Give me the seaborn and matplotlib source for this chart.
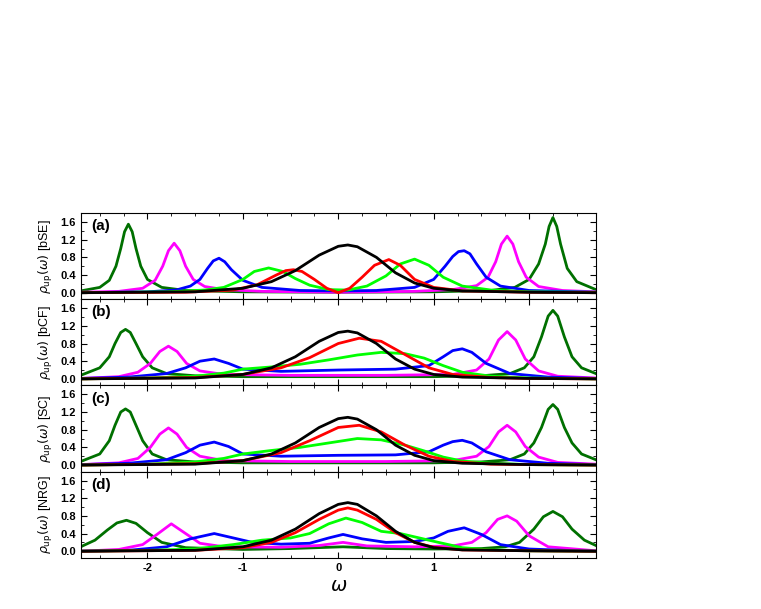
import matplotlib
matplotlib.use('Agg')
import matplotlib.pyplot as plt
import seaborn as sns
from matplotlib.ticker import MultipleLocator

# ---- panel (a) bSE ----
GA_x = [-2.7,-2.5,-2.4,-2.33,-2.28,-2.24,-2.2,-2.16,-2.12,-2.07,-2.0,-1.85,-1.6,-1.0,0.0,1.0,1.6,1.85,2.0,2.1,2.17,2.21,2.25,2.29,2.33,2.4,2.5,2.7]
GA_y = [0.04,0.12,0.28,0.6,1.0,1.38,1.55,1.38,1.0,0.6,0.3,0.12,0.05,0.02,0.01,0.02,0.05,0.12,0.3,0.65,1.1,1.5,1.7,1.5,1.1,0.55,0.25,0.07]
MA_x = [-2.7,-2.3,-2.05,-1.92,-1.84,-1.78,-1.72,-1.66,-1.6,-1.52,-1.4,-1.2,-0.8,0,0.8,1.2,1.45,1.57,1.65,1.71,1.77,1.83,1.89,1.97,2.1,2.35,2.7]
MA_y = [0.01,0.03,0.1,0.28,0.6,0.95,1.12,0.95,0.6,0.3,0.14,0.07,0.03,0.01,0.03,0.07,0.16,0.35,0.7,1.1,1.28,1.1,0.7,0.35,0.14,0.05,0.02]
BA_x = [-2.7,-2.0,-1.7,-1.55,-1.45,-1.37,-1.31,-1.25,-1.19,-1.12,-1.0,-0.8,-0.4,0,0.4,0.8,1.0,1.12,1.2,1.26,1.32,1.38,1.45,1.55,1.7,2.0,2.7]
BA_y = [0.0,0.02,0.06,0.15,0.3,0.55,0.72,0.78,0.7,0.52,0.28,0.12,0.05,0.04,0.05,0.12,0.3,0.6,0.82,0.93,0.95,0.88,0.65,0.35,0.15,0.05,0.01]
LA_x = [-2.7,-1.8,-1.4,-1.2,-1.0,-0.88,-0.73,-0.58,-0.45,-0.3,-0.1,0.1,0.3,0.5,0.65,0.8,0.95,1.1,1.3,1.6,2.0,2.7]
LA_y = [0.0,0.02,0.06,0.12,0.3,0.48,0.56,0.48,0.32,0.17,0.07,0.06,0.15,0.38,0.65,0.76,0.62,0.35,0.15,0.06,0.02,0.01]
RA_x = [-2.7,-1.6,-1.1,-0.85,-0.65,-0.55,-0.47,-0.38,-0.25,-0.12,0.0,0.12,0.25,0.38,0.53,0.65,0.8,1.0,1.3,2.0,2.7]
RA_y = [0.0,0.01,0.06,0.18,0.4,0.5,0.52,0.48,0.3,0.1,0.0,0.1,0.35,0.62,0.75,0.62,0.3,0.12,0.04,0.01,0.0]
KA_x = [-2.7,-1.5,-1.0,-0.7,-0.45,-0.2,0.0,0.1,0.2,0.4,0.6,0.8,1.0,1.3,2.0,2.7]
KA_y = [0.0,0.02,0.1,0.25,0.5,0.85,1.05,1.08,1.04,0.8,0.45,0.22,0.1,0.04,0.01,0.0]

# ---- panel (b) bCF ----
GB_x = [-2.7,-2.5,-2.4,-2.34,-2.28,-2.23,-2.18,-2.12,-2.05,-1.95,-1.8,-1.5,-1.0,0,1.0,1.5,1.8,1.95,2.05,2.13,2.2,2.25,2.3,2.37,2.45,2.55,2.7]
GB_y = [0.08,0.25,0.5,0.8,1.05,1.12,1.05,0.8,0.5,0.25,0.12,0.07,0.05,0.05,0.05,0.07,0.12,0.25,0.5,0.95,1.42,1.55,1.42,0.95,0.5,0.25,0.12]
MB_x = [-2.7,-2.3,-2.1,-1.97,-1.87,-1.78,-1.69,-1.59,-1.45,-1.2,-0.5,0.5,1.2,1.45,1.58,1.68,1.77,1.86,1.96,2.1,2.3,2.7]
MB_y = [0.01,0.05,0.15,0.35,0.62,0.74,0.62,0.35,0.18,0.1,0.08,0.08,0.1,0.2,0.45,0.88,1.07,0.88,0.45,0.18,0.06,0.02]
BB_x = [-2.7,-2.2,-1.8,-1.6,-1.45,-1.3,-1.15,-1.0,-0.6,0,0.6,0.95,1.1,1.2,1.3,1.4,1.55,1.8,2.2,2.7]
BB_y = [0.01,0.04,0.12,0.25,0.4,0.45,0.35,0.22,0.17,0.2,0.22,0.3,0.5,0.64,0.68,0.6,0.35,0.12,0.04,0.01]
LB_x = [-2.7,-2.0,-1.5,-1.2,-1.0,-0.7,-0.4,-0.1,0.2,0.45,0.7,0.9,1.1,1.3,1.6,2.0,2.7]
LB_y = [0.0,0.02,0.06,0.13,0.22,0.27,0.33,0.43,0.54,0.6,0.57,0.47,0.3,0.15,0.06,0.02,0.0]
RB_x = [-2.7,-1.5,-1.0,-0.6,-0.3,0.0,0.22,0.45,0.7,0.95,1.2,1.6,2.0,2.7]
RB_y = [0.0,0.03,0.1,0.25,0.48,0.8,0.92,0.85,0.55,0.25,0.1,0.03,0.01,0.0]
KB_x = KA_x
KB_y = [0.0,0.02,0.1,0.25,0.5,0.85,1.05,1.08,1.04,0.8,0.45,0.22,0.1,0.04,0.01,0.0]

# ---- panel (c) SC ----
GC_x = GB_x
GC_y = [0.08,0.25,0.55,0.9,1.2,1.27,1.2,0.9,0.55,0.25,0.12,0.07,0.05,0.05,0.05,0.07,0.12,0.25,0.5,0.85,1.26,1.37,1.26,0.85,0.5,0.25,0.12]
MC_x = MB_x
MC_y = [0.01,0.05,0.15,0.4,0.7,0.84,0.7,0.4,0.2,0.1,0.08,0.08,0.1,0.2,0.42,0.75,0.9,0.75,0.42,0.18,0.06,0.02]
BC_x = BB_x
BC_y = [0.01,0.04,0.12,0.28,0.45,0.52,0.42,0.25,0.2,0.22,0.23,0.3,0.45,0.53,0.56,0.5,0.3,0.12,0.04,0.01]
LC_x = [-2.7,-2.0,-1.5,-1.2,-1.0,-0.7,-0.4,-0.1,0.2,0.45,0.7,0.9,1.1,1.3,1.6,2.0,2.7]
LC_y = [0.0,0.02,0.07,0.15,0.25,0.33,0.4,0.5,0.6,0.57,0.45,0.32,0.18,0.09,0.04,0.01,0.0]
RC_x = RB_x
RC_y = [0.0,0.03,0.1,0.28,0.55,0.85,0.9,0.75,0.45,0.2,0.08,0.02,0.01,0.0]
KC_x = KA_x
KC_y = [0.0,0.02,0.1,0.25,0.5,0.85,1.05,1.08,1.04,0.8,0.45,0.22,0.1,0.04,0.01,0.0]

# ---- panel (d) NRG ----
GD_x = [-2.7,-2.55,-2.42,-2.32,-2.22,-2.12,-2.0,-1.85,-1.6,-1.0,-0.5,0.05,0.5,1.0,1.5,1.75,1.9,2.05,2.15,2.25,2.35,2.45,2.58,2.7]
GD_y = [0.1,0.25,0.48,0.64,0.7,0.63,0.42,0.2,0.08,0.04,0.06,0.1,0.06,0.05,0.06,0.1,0.2,0.5,0.78,0.9,0.78,0.5,0.25,0.13]
MD_x = [-2.7,-2.3,-2.05,-1.9,-1.75,-1.6,-1.45,-1.2,-0.6,-0.2,0.05,0.3,0.8,1.2,1.4,1.55,1.67,1.77,1.87,2.0,2.2,2.7]
MD_y = [0.0,0.04,0.15,0.38,0.62,0.4,0.18,0.1,0.09,0.13,0.2,0.12,0.1,0.12,0.2,0.42,0.72,0.8,0.68,0.35,0.1,0.01]
BD_x = [-2.7,-2.2,-1.8,-1.55,-1.3,-1.1,-0.9,-0.6,-0.3,-0.1,0.05,0.25,0.5,0.8,1.0,1.15,1.32,1.5,1.7,2.0,2.5,2.7]
BD_y = [0.0,0.02,0.1,0.28,0.4,0.3,0.2,0.16,0.18,0.3,0.38,0.28,0.2,0.22,0.3,0.45,0.53,0.38,0.15,0.05,0.01,0.0]
LD_x = [-2.7,-2.0,-1.5,-1.1,-0.8,-0.5,-0.3,-0.1,0.08,0.25,0.45,0.65,0.85,1.05,1.3,1.6,2.0,2.7]
LD_y = [0.0,0.02,0.05,0.15,0.25,0.3,0.4,0.62,0.75,0.65,0.45,0.4,0.3,0.2,0.08,0.03,0.01,0.0]
RD_x = [-2.7,-1.5,-1.0,-0.7,-0.45,-0.2,0.0,0.1,0.2,0.4,0.6,0.8,1.0,1.3,2.0,2.7]
RD_y = [0.0,0.02,0.08,0.2,0.42,0.72,0.93,0.98,0.93,0.72,0.42,0.2,0.09,0.03,0.01,0.0]
KD_x = KA_x
KD_y = [0.0,0.02,0.1,0.25,0.5,0.85,1.06,1.1,1.06,0.8,0.45,0.2,0.08,0.03,0.01,0.0]

panel_names = ['bSE', 'bCF', 'SC', 'NRG']
panel_tags = ['(a)', '(b)', '(c)', '(d)']
colors = ['#007000', '#ff00ff', '#0000ff', '#00ff00', '#ff0000', '#000000']
panels = [
    [(GA_x, GA_y), (MA_x, MA_y), (BA_x, BA_y), (LA_x, LA_y), (RA_x, RA_y), (KA_x, KA_y)],
    [(GB_x, GB_y), (MB_x, MB_y), (BB_x, BB_y), (LB_x, LB_y), (RB_x, RB_y), (KB_x, KB_y)],
    [(GC_x, GC_y), (MC_x, MC_y), (BC_x, BC_y), (LC_x, LC_y), (RC_x, RC_y), (KC_x, KC_y)],
    [(GD_x, GD_y), (MD_x, MD_y), (BD_x, BD_y), (LD_x, LD_y), (RD_x, RD_y), (KD_x, KD_y)],
]

plt.rcParams['font.family'] = 'Liberation Sans'
plt.rcParams['axes.unicode_minus'] = False
fig, axes = plt.subplots(4, 1, figsize=(7.61, 6.09), dpi=100, sharex=True)
fig.subplots_adjust(left=0.106, right=0.783, bottom=0.084, top=0.65, hspace=0)

for ax, curves, name, tag in zip(axes, panels, panel_names, panel_tags):
    for (xs, ys), c in zip(curves, colors):
        sns.lineplot(x=xs, y=ys, ax=ax, color=c, lw=2, sort=False, estimator=None)
    ax.set_xlim(-2.7, 2.7)
    ax.set_ylim(-0.15, 1.8)
    ax.yaxis.set_major_locator(MultipleLocator(0.4))
    ax.yaxis.set_minor_locator(MultipleLocator(0.2))
    ax.xaxis.set_major_locator(MultipleLocator(1))
    ax.xaxis.set_minor_locator(MultipleLocator(0.25))
    ax.yaxis.set_major_formatter(matplotlib.ticker.FormatStrFormatter('%.1f'))
    ax.tick_params(which='both', direction='in', top=True, right=True, labelsize=8)
    ax.tick_params(which='major', length=4)
    ax.tick_params(which='minor', length=2)
    for lbl in ax.get_yticklabels() + ax.get_xticklabels():
        lbl.set_fontweight('bold')
    ax.set_ylabel(r'$\rho_{\rm up}(\omega)$ [' + name + ']', fontsize=9)
    ax.text(0.02, 0.93, tag, transform=ax.transAxes, fontsize=11, va='top', fontweight='bold')

axes[-1].set_xlabel(r'$\omega$', fontsize=14)
fig.align_ylabels(axes)
fig.savefig('out.png', dpi=100)
